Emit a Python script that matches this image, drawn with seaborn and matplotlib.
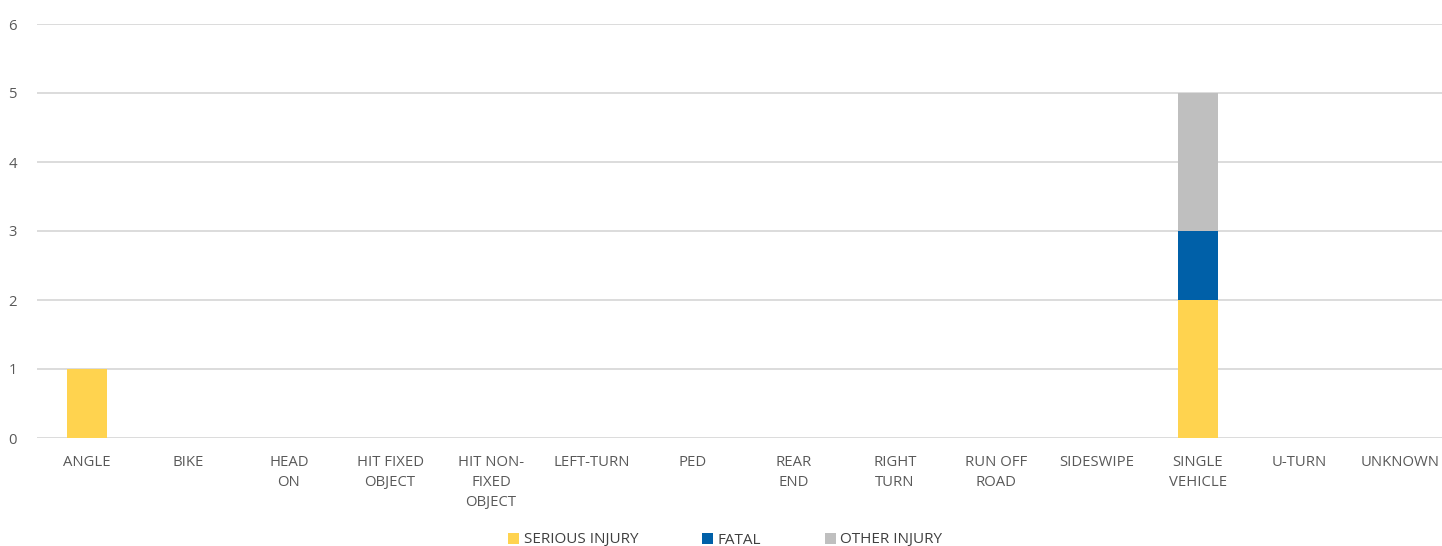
import matplotlib
matplotlib.use("Agg")
import matplotlib.pyplot as plt
import seaborn as sns
import numpy as np

sns.set_style("white")
plt.rcParams["font.family"] = ["Open Sans", "DejaVu Sans"]

# ----- data -----
categories = ["ANGLE", "BIKE", "HEAD\nON", "HIT FIXED\nOBJECT", "HIT NON-\nFIXED\nOBJECT",
              "LEFT-TURN", "PED", "REAR\nEND", "RIGHT\nTURN", "RUN OFF\nROAD",
              "SIDESWIPE", "SINGLE\nVEHICLE", "U-TURN", "UNKNOWN"]
serious_injury = [1, 0, 0, 0, 0, 0, 0, 0, 0, 0, 0, 2, 0, 0]
fatal = [0, 0, 0, 0, 0, 0, 0, 0, 0, 0, 0, 1, 0, 0]
other_injury = [0, 0, 0, 0, 0, 0, 0, 0, 0, 0, 0, 2, 0, 0]

colors = {"SERIOUS INJURY": "#FFD34F", "FATAL": "#0060A8", "OTHER INJURY": "#BFBFBF"}
text_color = "#595959"

fig = plt.figure(figsize=(14.42, 5.46), dpi=100)
ax = fig.add_axes([36.5 / 1442, 1 - 438 / 546, 1414 / 1442, (438 - 24) / 546])

s = np.array(serious_injury)
f = np.array(fatal)
o = np.array(other_injury)

sns.barplot(x=categories, y=s, color=colors["SERIOUS INJURY"], width=0.4,
            ax=ax, label="SERIOUS INJURY", saturation=1, linewidth=0)
sns.barplot(x=categories, y=f, bottom=s, color=colors["FATAL"], width=0.4,
            ax=ax, label="FATAL", saturation=1, linewidth=0)
sns.barplot(x=categories, y=o, bottom=s + f, color=colors["OTHER INJURY"], width=0.4,
            ax=ax, label="OTHER INJURY", saturation=1, linewidth=0)

ax.set_ylim(0, 6)
ax.set_xlim(-0.5, len(categories) - 0.5)
ax.set_yticks(range(0, 7))
ax.yaxis.grid(True, color="#D9D9D9", linewidth=1.3)
ax.set_axisbelow(True)
for sp in ax.spines.values():
    sp.set_visible(False)
ax.tick_params(axis="both", length=0, colors=text_color, labelsize=10.7)
ax.tick_params(axis="y", pad=14)
ax.tick_params(axis="x", pad=12)
for lbl in ax.get_xticklabels():
    lbl.set_linespacing(1.45)
    lbl.set_verticalalignment("top")
ax.set_xlabel("")
ax.set_ylabel("")

if ax.legend_:
    ax.legend_.remove()
handles, labels = ax.get_legend_handles_labels()
fig.legend(handles, labels, loc="center", bbox_to_anchor=(0.503, 1 - 540 / 546),
           ncol=3, frameon=False, fontsize=11, handlelength=0.7, handleheight=0.7,
           handletextpad=0.3, columnspacing=4.2, labelcolor="#404040")

fig.savefig("out.png", dpi=100)
